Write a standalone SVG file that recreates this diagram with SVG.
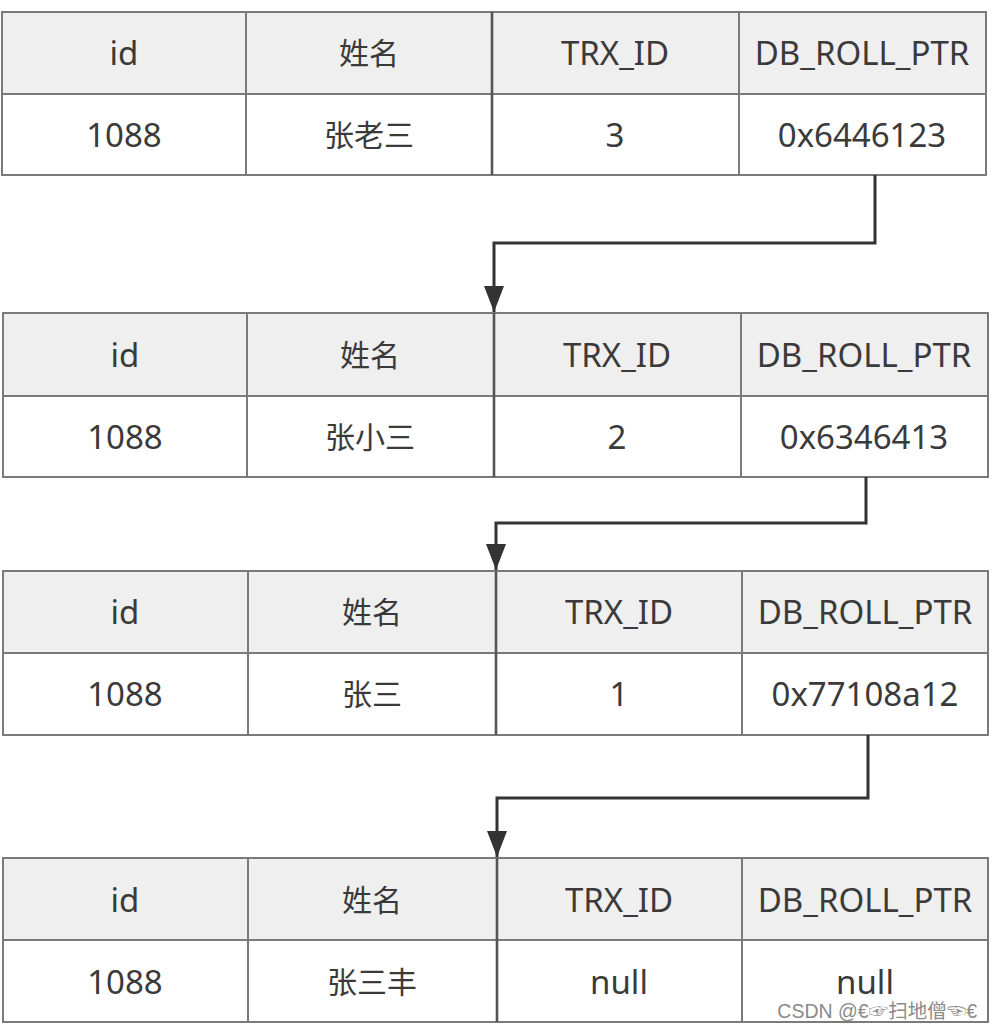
<svg xmlns="http://www.w3.org/2000/svg" width="992" height="1030" viewBox="0 0 992 1030">
<defs>
<style>
.hdr{fill:#efefef;stroke:none}
.row{fill:#ffffff;stroke:none}
.grid{stroke:#7a7a7a;stroke-width:2;fill:none}
.mid{stroke:#555;stroke-width:2.6;fill:none}
.t{font-family:"Noto Sans","Open Sans","Noto Sans CJK SC",sans-serif;font-size:33px;fill:#3a3a3a;text-anchor:middle}
.c{font-family:"Noto Sans CJK SC","Noto Sans",sans-serif;font-size:30px;fill:#3a3a3a;text-anchor:middle}
.conn{stroke:#333;stroke-width:3;fill:none}
.wm{font-family:"Liberation Sans","Noto Sans CJK SC",sans-serif;font-size:19.5px;fill:#8a8a8a;text-anchor:end}
</style>
<marker id="arr" markerUnits="userSpaceOnUse" markerWidth="28" markerHeight="22" refX="26" refY="11" orient="auto">
<path d="M0,1 L26,11 L0,21 Z" fill="#333"/>
</marker>
</defs>
<rect width="992" height="1030" fill="#ffffff"/>

<g id="table1">
<rect class="hdr" x="2" y="12" width="984" height="82"/>
<rect class="row" x="2" y="94" width="984" height="81"/>
<rect class="grid" x="2" y="12" width="984" height="163"/>
<line class="grid" x1="2" y1="94" x2="986" y2="94"/>
<line class="grid" x1="246" y1="12" x2="246" y2="175"/>
<line class="mid" x1="492" y1="12" x2="492" y2="175"/>
<line class="grid" x1="739" y1="12" x2="739" y2="175"/>
<text class="t" x="124" y="65">id</text>
<text class="c" x="369" y="64">姓名</text>
<text class="t" x="615" y="65">TRX_ID</text>
<text class="t" x="862" y="65">DB_ROLL_PTR</text>
<text class="t" x="124" y="147">1088</text>
<text class="c" x="369" y="146">张老三</text>
<text class="t" x="615" y="147">3</text>
<text class="t" x="862" y="147">0x6446123</text>
</g>

<g id="table2">
<rect class="hdr" x="3" y="313" width="985" height="83"/>
<rect class="row" x="3" y="396" width="985" height="81"/>
<rect class="grid" x="3" y="313" width="985" height="164"/>
<line class="grid" x1="3" y1="396" x2="988" y2="396"/>
<line class="grid" x1="247" y1="313" x2="247" y2="477"/>
<line class="mid" x1="494" y1="313" x2="494" y2="477"/>
<line class="grid" x1="741" y1="313" x2="741" y2="477"/>
<text class="t" x="125" y="367">id</text>
<text class="c" x="370" y="366">姓名</text>
<text class="t" x="617" y="367">TRX_ID</text>
<text class="t" x="864" y="367">DB_ROLL_PTR</text>
<text class="t" x="125" y="449">1088</text>
<text class="c" x="370" y="448">张小三</text>
<text class="t" x="617" y="449">2</text>
<text class="t" x="864" y="449">0x6346413</text>
</g>

<g id="table3">
<rect class="hdr" x="3" y="571" width="985" height="82"/>
<rect class="row" x="3" y="653" width="985" height="82"/>
<rect class="grid" x="3" y="571" width="985" height="164"/>
<line class="grid" x1="3" y1="653" x2="988" y2="653"/>
<line class="grid" x1="248" y1="571" x2="248" y2="735"/>
<line class="mid" x1="496" y1="571" x2="496" y2="735"/>
<line class="grid" x1="742" y1="571" x2="742" y2="735"/>
<text class="t" x="125" y="624">id</text>
<text class="c" x="372" y="623">姓名</text>
<text class="t" x="619" y="624">TRX_ID</text>
<text class="t" x="865" y="624">DB_ROLL_PTR</text>
<text class="t" x="125" y="706">1088</text>
<text class="c" x="372" y="705">张三</text>
<text class="t" x="619" y="706">1</text>
<text class="t" x="865" y="706">0x77108a12</text>
</g>

<g id="table4">
<rect class="hdr" x="3" y="858" width="985" height="82"/>
<rect class="row" x="3" y="940" width="985" height="82"/>
<rect class="grid" x="3" y="858" width="985" height="164"/>
<line class="grid" x1="3" y1="940" x2="988" y2="940"/>
<line class="grid" x1="248" y1="858" x2="248" y2="1022"/>
<line class="mid" x1="497" y1="858" x2="497" y2="1022"/>
<line class="grid" x1="742" y1="858" x2="742" y2="1022"/>
<text class="t" x="125" y="912">id</text>
<text class="c" x="372" y="911">姓名</text>
<text class="t" x="619" y="912">TRX_ID</text>
<text class="t" x="865" y="912">DB_ROLL_PTR</text>
<text class="t" x="125" y="994">1088</text>
<text class="c" x="372" y="993">张三丰</text>
<text class="t" x="619" y="994">null</text>
<text class="t" x="865" y="994">null</text>
</g>

<g id="connectors">
<path class="conn" d="M875,175 V243 H494 V312" marker-end="url(#arr)"/>
<path class="conn" d="M866,477 V523 H496 V570" marker-end="url(#arr)"/>
<path class="conn" d="M868,735 V798 H497 V857" marker-end="url(#arr)"/>
</g>

<text class="wm" x="977" y="1018">CSDN @€☞扫地僧☜€</text>
</svg>
